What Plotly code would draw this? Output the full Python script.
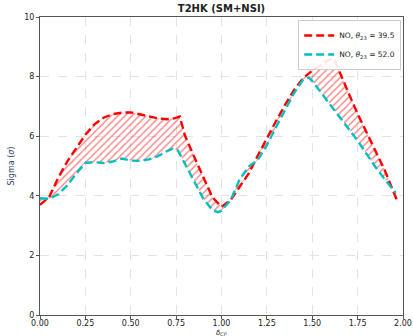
import plotly.graph_objects as go

# delta_CP values (units of pi) and sigma values
x_red = [0.00, 0.05, 0.10, 0.15, 0.20, 0.25, 0.30, 0.35, 0.40, 0.45, 0.50, 0.55, 0.60, 0.65, 0.70, 0.74, 0.77,
         0.80, 0.85, 0.90, 0.95, 1.00, 1.05, 1.10, 1.15, 1.20, 1.25, 1.30, 1.35, 1.40, 1.45, 1.50, 1.55,
         1.60, 1.62, 1.65, 1.70, 1.75, 1.80, 1.85, 1.90, 1.95, 1.97]
y_red = [3.70, 3.95, 4.60, 5.15, 5.60, 6.05, 6.40, 6.62, 6.74, 6.79, 6.80, 6.74, 6.66, 6.60, 6.57, 6.60, 6.66,
         6.00, 5.30, 4.60, 3.95, 3.63, 3.85, 4.30, 4.75, 5.35, 5.95, 6.50, 7.05, 7.55, 7.95, 8.20, 8.40,
         8.58, 8.60, 8.15, 7.45, 6.75, 6.10, 5.50, 4.85, 4.10, 3.80]

x_cyan = [0.00, 0.05, 0.10, 0.15, 0.20, 0.25, 0.30, 0.35, 0.40, 0.45, 0.50, 0.55, 0.60, 0.65, 0.70, 0.73, 0.76,
          0.80, 0.85, 0.90, 0.95, 0.98, 1.00, 1.05, 1.10, 1.15, 1.20, 1.25, 1.30, 1.35, 1.40, 1.45, 1.48,
          1.50, 1.55, 1.60, 1.65, 1.70, 1.75, 1.80, 1.85, 1.90, 1.96]
y_cyan = [3.92, 3.90, 4.05, 4.35, 4.75, 5.10, 5.13, 5.10, 5.15, 5.25, 5.18, 5.17, 5.22, 5.33, 5.50, 5.58, 5.52,
          5.05, 4.45, 3.90, 3.52, 3.45, 3.50, 3.85, 4.55, 4.98, 5.20, 5.70, 6.30, 6.90, 7.45, 7.90, 7.97,
          7.85, 7.45, 7.05, 6.65, 6.25, 5.85, 5.40, 4.95, 4.55, 4.10]

label_red = "NO, <i>θ</i><sub>23</sub> = 39.5"
label_cyan = "NO, <i>θ</i><sub>23</sub> = 52.0"

fig = go.Figure()
fig.add_trace(go.Scatter(x=x_red, y=y_red, mode="lines", name=label_red,
                         line=dict(color="#ff0000", width=2.4, dash="8px,4px")))
fig.add_trace(go.Scatter(x=x_cyan, y=y_cyan, mode="lines", showlegend=False, hoverinfo="skip",
                         line=dict(width=0), fill="tonexty", fillcolor="rgba(0,0,0,0)",
                         fillpattern=dict(shape="/", fgcolor="#ff0000", bgcolor="rgba(0,0,0,0)",
                                          size=5, solidity=0.28)))
fig.add_trace(go.Scatter(x=x_cyan, y=y_cyan, mode="lines", name=label_cyan,
                         line=dict(color="#00bfbf", width=2.4, dash="8px,4px")))

axis_common = dict(showline=True, linecolor="#555555", linewidth=1, mirror=True,
                   showgrid=True, gridcolor="#e3e3e3", griddash="dash", gridwidth=0.8,
                   ticks="outside", ticklen=3, tickcolor="#555555", automargin=False,
                   tickfont=dict(family="DejaVu Sans", size=8, color="#222222"), zeroline=False)

fig.update_layout(
    width=413, height=336,
    margin=dict(l=40, r=10, t=17, b=21),
    paper_bgcolor="white", plot_bgcolor="white",
    title=dict(text="<b>T2HK (SM+NSI)</b>", x=0.5, xref="paper", y=0.985, yanchor="top",
               font=dict(family="DejaVu Sans", size=10, color="#222222")),
    xaxis=dict(range=[0, 2], tickvals=[0, 0.25, 0.5, 0.75, 1.0, 1.25, 1.5, 1.75, 2.0],
               ticktext=["0.00", "0.25", "0.50", "0.75", "1.00", "1.25", "1.50", "1.75", "2.00"],
               ticklabelstandoff=-3,
               **axis_common),
    yaxis=dict(range=[0, 10], tickvals=[0, 2, 4, 6, 8, 10],
               title=dict(text="Sigma (<i>σ</i>)", standoff=8,
                          font=dict(family="DejaVu Sans", size=8)),
               **axis_common),
    legend=dict(x=0.995, y=0.99, xanchor="right", yanchor="top", traceorder="normal",
                bgcolor="rgba(255,255,255,0.9)", bordercolor="#cccccc", borderwidth=1,
                font=dict(family="DejaVu Sans", size=7.5, color="#222222"),
                tracegroupgap=0, itemwidth=30),
    annotations=[dict(text="<i>δ</i><sub><i>CP</i></sub>", x=0.5, xref="paper", y=-0.061, yref="paper",
                      yanchor="middle", xanchor="center", showarrow=False,
                      font=dict(family="DejaVu Sans", size=7, color="#222222"))],
    showlegend=True,
)

fig.write_html("out.html")
